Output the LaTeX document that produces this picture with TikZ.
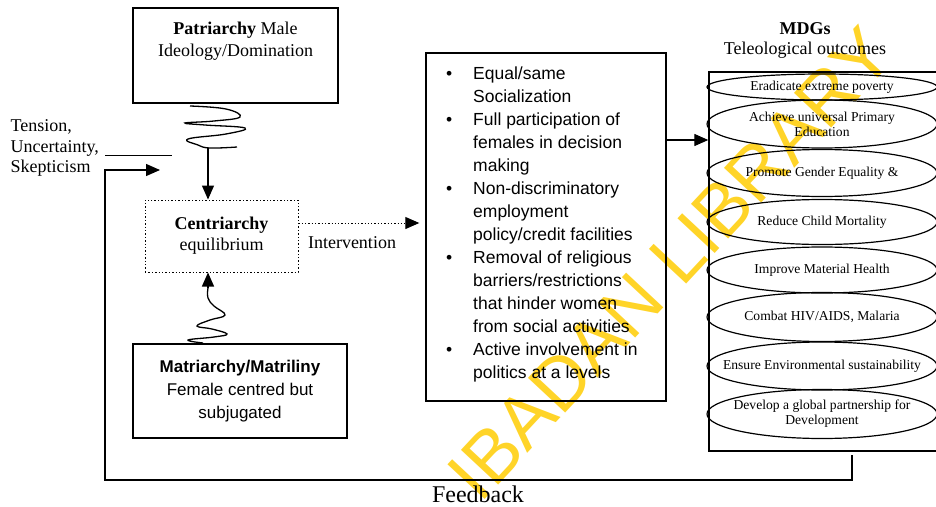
\documentclass[tikz,border=0pt]{standalone}
\usepackage{fontspec}
\setmainfont{Liberation Serif}
\newfontfamily\sansfont{Liberation Sans}
\usetikzlibrary{shapes,arrows.meta,positioning,calc}
\definecolor{wmyellow}{RGB}{255,212,40}

\tikzset{
    box/.style={draw, line width=1.4pt, align=center, inner sep=0pt},
    goal/.style={draw, ellipse, line width=1.2pt, minimum width=230pt, inner xsep=-25pt, inner ysep=0pt, align=center, font=\fontsize{13.6}{15}\selectfont},
    arr/.style={line width=1.3pt, -{Triangle[length=14pt,width=12pt]}},
    twist/.style={line width=1.3pt},
    serif18/.style={align=center, font=\fontsize{18}{22}\selectfont},
}

\begin{document}
\begin{tikzpicture}[x=1pt,y=-1pt]
    \useasboundingbox (0,0) rectangle (936,506);
    \clip (0,0) rectangle (936,506);

    % Watermark
    \node[text=wmyellow, rotate=47, font=\sansfont\fontsize{74}{80}\selectfont] (wmark) at (670,264) {IBADAN LIBRARY};

    % Patriarchy
    \node[box, minimum width=205pt, minimum height=95pt] (patri) at (235.5,55.5) {};
    \node[serif18] (patritxt) at (235.5,41) {\textbf{Patriarchy} Male\\Ideology/Domination};

    % Centriarchy
    \node[box, dotted, line width=1pt, minimum width=153pt, minimum height=72pt, font=\fontsize{18}{21}\selectfont] (centri) at (221.5,236) {\textbf{Centriarchy}\\equilibrium};

    % Matriarchy
    \node[box, minimum width=214pt, minimum height=94pt, font=\sansfont\fontsize{17}{23}\selectfont] (matri) at (240,391) {\textbf{Matriarchy/Matriliny}\\Female centred but\\subjugated};

    % Tension
    \node[anchor=west, align=left, font=\fontsize{18}{20.5}\selectfont] (tension) at (7,148) {Tension,\\Uncertainty,\\Skepticism};
    \draw[line width=1pt] (tension.east |- 0,155) ++(3,0) -- ++(67,0);

    % Intervention box
    \node[box, minimum width=240pt, minimum height=348pt] (aims) at (546,227) {};
    \node[anchor=north west, inner sep=0pt, font=\sansfont\fontsize{17.5}{23}\selectfont] (aimstxt) at (446,63) {%
        \begin{tabular}{@{}p{27pt}@{}l@{}}
        \textbullet & Equal/same\\
                    & Socialization\\
        \textbullet & Full participation of\\
                    & females in decision\\
                    & making\\
        \textbullet & Non-discriminatory\\
                    & employment\\
                    & policy/credit facilities\\
        \textbullet & Removal of religious\\
                    & barriers/restrictions\\
                    & that hinder women\\
                    & from social activities\\
        \textbullet & Active involvement in\\
                    & politics at a levels
        \end{tabular}};

    % MDGs
    \node[align=center, font=\fontsize{18}{20}\selectfont] (mdghead) at (805,40) {\textbf{MDGs}\\Teleological outcomes};
    \node[box, minimum width=240pt, minimum height=379pt] (mdgbox) at (829,261.5) {};

    \node[goal, minimum height=26pt] (poverty) at (822,87) {Eradicate extreme poverty};
    \node[goal, minimum height=48pt] (educ) at (822,124) {Achieve universal Primary\\Education};
    \node[goal, minimum height=47pt] (gender) at (822,173) {Promote Gender Equality \&};
    \node[goal, minimum height=45pt] (child) at (822,222) {Reduce Child Mortality};
    \node[goal, minimum height=46pt] (health) at (822,270) {Improve Material Health};
    \node[goal, minimum height=49pt] (hiv) at (822,317) {Combat HIV/AIDS, Malaria};
    \node[goal, minimum height=48pt] (environ) at (822,366) {Ensure Environmental sustainability};
    \node[goal, minimum height=49pt] (partner) at (822,414) {Develop a global partnership for\\Development};

    % Twists and arrows
    \draw[twist] plot[smooth, tension=0.7] coordinates {(190,106) (226,109) (240,117) (214,121) (185,123) (205,125) (245,128) (226,134) (188,139) (198,145) (210,148) (237,147)};
    \coordinate (twisttop) at (208,148);
    \draw[arr] (twisttop) -- (twisttop |- centri.north);

    \draw[twist] plot[smooth, tension=0.7] coordinates {(203,343) (188,340) (214,337) (227,334) (212,329) (197,326) (210,320) (225,315) (214,306) (208,298) (208,288)};
    \coordinate (twistbot) at (208,288);
    \draw[arr] (twistbot) -- (twistbot |- centri.south);

    \draw[arr, dotted, line width=1pt] (centri.east |- 0,223) -- (aims.west |- 0,223) [shorten >=6pt];
    \node[font=\fontsize{18}{21}\selectfont] (interv) at (352,243) {Intervention};

    \draw[arr] (aims.east |- 0,140) -- (mdgbox.west |- 0,140);

    % Feedback
    \coordinate (fbout) at (852,455);
    \coordinate (fbin) at (160,170);
    \draw[arr] (fbout) -- (852,480) -- (105,480) -- (105,170) -- (fbin);
    \node[font=\fontsize{24}{26}\selectfont] (feedback) at (478,494) {Feedback};
\end{tikzpicture}
\end{document}
